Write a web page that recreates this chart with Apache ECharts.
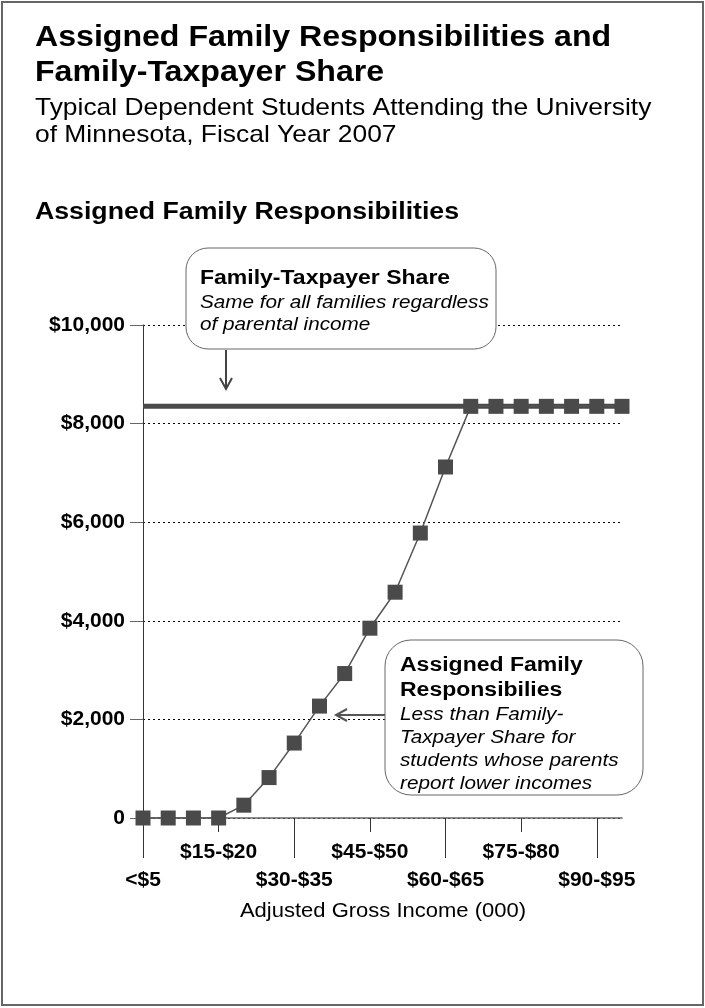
<!DOCTYPE html>
<html>
<head>
<meta charset="utf-8">
<script src="https://cdn.jsdelivr.net/npm/echarts@6/dist/echarts.min.js"></script>
<style>
html,body{margin:0;padding:0;background:#fff;}
#chart{width:705px;height:1008px;}
</style>
</head>
<body>
<div id="chart"></div>
<script>
// ---- data ----
const categories = ["<$5","$5-$10","$10-$15","$15-$20","$20-$25","$25-$30","$30-$35","$35-$40","$40-$45","$45-$50",
  "$50-$55","$55-$60","$60-$65","$65-$70","$70-$75","$75-$80","$80-$85","$85-$90","$90-$95","$95-$100"];
const assignedFamilyResponsibilities = [0,0,0,0,260,820,1520,2270,2930,3850,4580,5780,7120,8350,8350,8350,8350,8350,8350,8350];
const familyTaxpayerShare = [8350,8350,8350,8350,8350,8350,8350,8350,8350,8350,8350,8350,8350,8350,8350,8350,8350,8350,8350,8350];
const yTicks = [0,2000,4000,6000,8000,10000];

const FONT = '"Liberation Sans", Arial, Helvetica, sans-serif';
const chart = echarts.init(document.getElementById('chart'), null, {renderer:'canvas'});

function txt(x, y, s, size, weight, style, sx, align){
  return {type:'text', x:x, y:y, z:100, scaleX:sx||1, scaleY:1,
    style:{text:s, x:0, y:0, fill:'#000', font:(style||'normal')+' '+(weight||'normal')+' '+size+'px '+FONT,
      textAlign:align||'left', textVerticalAlign:'middle'}};
}

const option = {
  backgroundColor:'#fff',
  animation:false,
  grid:{left:143, right:83, top:325, bottom:190, outerBoundsMode:'none', containLabel:false},
  xAxis:[{
    type:'category', data:categories, boundaryGap:false, position:'bottom', offset:0,
    axisLine:{show:true, lineStyle:{color:'#666', width:1.5}},
    axisTick:{show:true, length:40, interval:(i)=>i%6===0, lineStyle:{color:'#333', width:1}},
    axisLabel:{interval:(i)=>i%6===0, margin:52, color:'#000', fontFamily:FONT, fontWeight:'bold', fontSize:21},
    splitLine:{show:false}
  },{
    type:'category', data:categories, boundaryGap:false, position:'bottom', offset:0,
    axisLine:{show:false},
    axisTick:{show:true, length:14, interval:(i)=>i%6===3, lineStyle:{color:'#333', width:1}},
    axisLabel:{interval:(i)=>i%6===3, margin:24, color:'#000', fontFamily:FONT, fontWeight:'bold', fontSize:21},
    splitLine:{show:false}
  }],
  yAxis:{
    type:'value', min:yTicks[0], max:yTicks[yTicks.length-1], interval:2000,
    axisLine:{show:true, lineStyle:{color:'#333', width:1}},
    axisTick:{show:true, length:13, lineStyle:{color:'#666'}},
    axisLabel:{margin:18, color:'#000', fontFamily:FONT, fontWeight:'bold', fontSize:21,
      formatter:(v)=> v===0 ? '0' : '$'+v.toLocaleString('en-US')},
    splitLine:{show:true, lineStyle:{color:'#000', type:[2,3], width:1}}
  },
  series:[{
    name:'Family-Taxpayer Share', type:'line', xAxisIndex:0, data:familyTaxpayerShare,
    showSymbol:false, symbol:'none', lineStyle:{color:'#4a4a4a', width:5}, z:2, silent:true
  },{
    name:'Assigned Family Responsibilities', type:'line', xAxisIndex:0, data:assignedFamilyResponsibilities,
    symbol:'rect', symbolSize:15, showSymbol:true,
    itemStyle:{color:'#4a4a4a'}, lineStyle:{color:'#555', width:1.5}, z:3, silent:true
  }],
  graphic:[
    {type:'rect', shape:{x:2, y:2, width:701, height:1003}, style:{fill:'none', stroke:'#666', lineWidth:2}, z:100},
    txt(35, 38, 'Assigned Family Responsibilities and', 30, 'bold', 'normal', 1.07),
    txt(35, 73, 'Family-Taxpayer Share', 30, 'bold', 'normal', 1.07),
    txt(35, 108, 'Typical Dependent Students Attending the University', 24, 'normal', 'normal', 1.1),
    txt(35, 135, 'of Minnesota, Fiscal Year 2007', 24, 'normal', 'normal', 1.1),
    txt(35, 213, 'Assigned Family Responsibilities', 23, 'bold', 'normal', 1.16),
    // box 1
    {type:'rect', shape:{x:186, y:248, width:310, height:101, r:22}, style:{fill:'#fff', stroke:'#666', lineWidth:1}, z:50},
    txt(200, 278, 'Family-Taxpayer Share', 20, 'bold', 'normal', 1.15),
    txt(200, 303, 'Same for all families regardless', 18, 'normal', 'italic', 1.15),
    txt(200, 325, 'of parental income', 18, 'normal', 'italic', 1.15),
    {type:'line', shape:{x1:226, y1:350, x2:226, y2:388}, style:{stroke:'#444', lineWidth:2}, z:50},
    {type:'polyline', shape:{points:[[220,378],[226,389],[232,378]]}, style:{stroke:'#444', lineWidth:2, fill:'none'}, z:50},
    // box 2
    {type:'rect', shape:{x:385, y:640, width:258, height:155, r:26}, style:{fill:'#fff', stroke:'#666', lineWidth:1}, z:50},
    txt(400, 665, 'Assigned Family', 20, 'bold', 'normal', 1.15),
    txt(400, 690, 'Responsibilies', 20, 'bold', 'normal', 1.15),
    txt(400, 715, 'Less than Family-', 18, 'normal', 'italic', 1.15),
    txt(400, 738, 'Taxpayer Share for', 18, 'normal', 'italic', 1.15),
    txt(400, 761, 'students whose parents', 18, 'normal', 'italic', 1.15),
    txt(400, 784, 'report lower incomes', 18, 'normal', 'italic', 1.15),
    {type:'line', shape:{x1:385, y1:715, x2:337, y2:715}, style:{stroke:'#555', lineWidth:2}, z:50},
    {type:'polyline', shape:{points:[[347,709],[336,715],[347,721]]}, style:{stroke:'#555', lineWidth:2, fill:'none'}, z:50},
    // axis name
    txt(383, 911, 'Adjusted Gross Income (000)', 20, 'normal', 'normal', 1.1, 'center')
  ]
};
chart.setOption(option);
</script>
</body>
</html>
